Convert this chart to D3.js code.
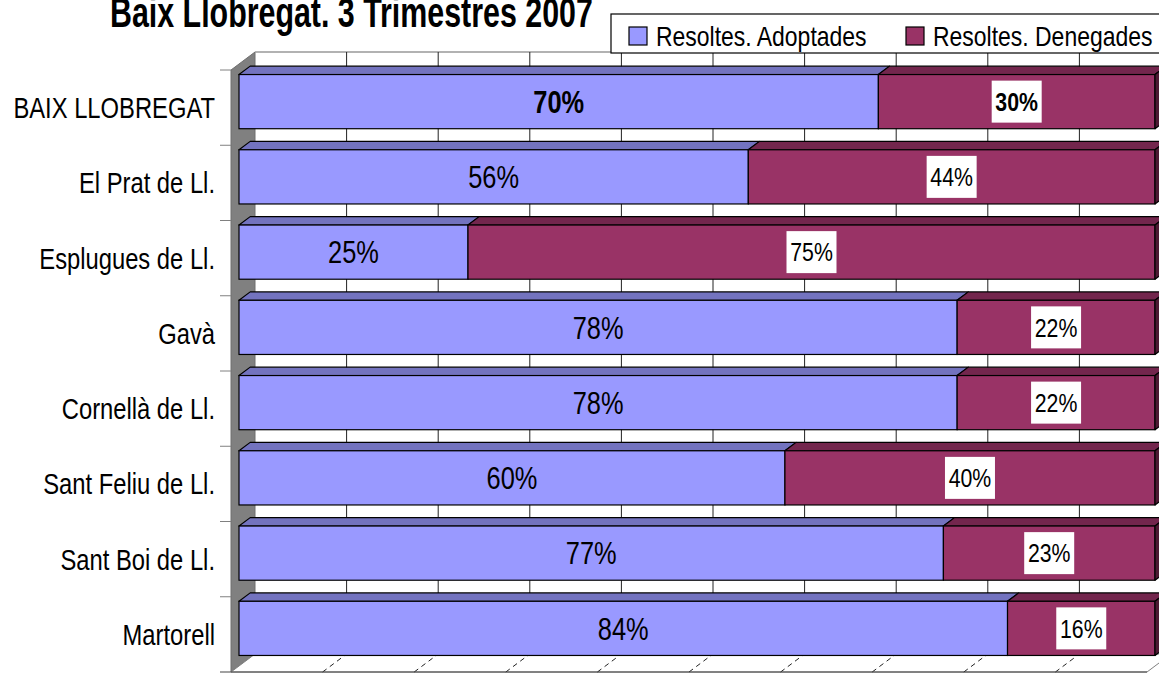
<!DOCTYPE html>
<html>
<head>
<meta charset="utf-8">
<script src="https://cdn.jsdelivr.net/npm/d3@7"></script>
<style>
  html, body { margin: 0; padding: 0; background: #fff; }
  svg { display: block; }
  text { font-family: "Liberation Sans", Arial, sans-serif; }
</style>
</head>
<body>
<div id="chart"></div>
<script>
// Data
const categories = ["BAIX LLOBREGAT", "El Prat de Ll.", "Esplugues de Ll.", "Gavà", "Cornellà de Ll.", "Sant Feliu de Ll.", "Sant Boi de Ll.", "Martorell"];
const adoptades = [69.8, 55.6, 25.0, 78.4, 78.4, 59.6, 76.9, 83.9];
const denegades = [30.2, 44.4, 75.0, 21.6, 21.6, 40.4, 23.1, 16.1];
const seriesNames = ["Resoltes. Adoptades", "Resoltes. Denegades"];
const title = "Baix Llobregat. 3 Trimestres 2007";

const W = 1159, H = 673;
const colors = {
  front: ["#9999ff", "#993366"],
  top: ["#7373bf", "#73264d"],
  side: ["#5c5c99", "#4d1a33"]
};

const svg = d3.select('#chart').append('svg').attr('width', W).attr('height', H);

// Arial Narrow is not installed: squeeze Liberation Sans horizontally
const NARROW = 0.82;
function narrowText(sel, x, y, str, size, anchor, weight) {
  return sel.append('text')
    .attr('transform', `translate(${x},${y}) scale(${NARROW},1)`)
    .attr('dy', '0.36em')
    .attr('text-anchor', anchor || 'start')
    .style('font-size', size + 'px')
    .style('font-weight', weight || 'normal')
    .text(str);
}

// front plane scales + oblique depth
const x = d3.scaleLinear().domain([0, 100]).range([231, 1147]);
const y = d3.scaleBand().domain(categories).range([70, 672]).paddingInner(0.28).paddingOuter(0.14);
const depth = { dx: 24, dy: -18 };
const f1 = 1 / 3, f2 = 0.8; // bar depth range
const P = (v, yy, f) => [x(v) + f * depth.dx, yy + f * depth.dy];
const poly = pts => pts.map(p => p.join(',')).join(' ');

const yTop = 70, yBot = 672;

// side wall (value 0)
svg.append('polygon')
  .attr('points', poly([P(0, yTop, 0), P(0, yTop, 1), P(0, yBot, 1), P(0, yBot, 0)]))
  .attr('fill', '#808080').attr('stroke', '#6e6e6e').attr('stroke-width', 1);

// floor
svg.append('polygon')
  .attr('points', poly([P(0, yBot, 0), P(100, yBot, 0), P(100, yBot, 1), P(0, yBot, 1)]))
  .attr('fill', '#fff').attr('stroke', '#808080').attr('stroke-width', 1);

// back wall top edge
svg.append('line')
  .attr('x1', P(0, yTop, 1)[0]).attr('y1', P(0, yTop, 1)[1])
  .attr('x2', P(100, yTop, 1)[0]).attr('y2', P(100, yTop, 1)[1])
  .attr('stroke', '#999').attr('stroke-width', 1.5);

// gridlines
const ticks = x.ticks(10);
ticks.filter(t => t > 0).forEach(t => {
  const a = P(t, yTop, 1), b = P(t, yBot, 1);
  svg.append('line').attr('x1', a[0]).attr('y1', a[1]).attr('x2', b[0]).attr('y2', b[1])
    .attr('stroke', '#222').attr('stroke-width', 1);
  if (t < 100) {
    const c = P(t, yBot, 0);
    svg.append('line').attr('x1', c[0]).attr('y1', c[1]).attr('x2', b[0]).attr('y2', b[1])
      .attr('stroke', '#222').attr('stroke-width', 1).attr('stroke-dasharray', '5,4');
  }
});

// front bottom edge + category ticks
svg.append('line').attr('x1', 220).attr('x2', x(100)).attr('y1', yBot).attr('y2', yBot)
  .attr('stroke', '#444').attr('stroke-width', 1.2);
categories.forEach(c => {
  const yy = y(c) - y.step() * y.paddingOuter();
  svg.append('line').attr('x1', 220).attr('x2', x(0)).attr('y1', yy).attr('y2', yy)
    .attr('stroke', '#808080').attr('stroke-width', 1);
});

// stacked bars
const rows = categories.map((c, i) => ({ cat: c, a: adoptades[i], d: denegades[i] }));
const stack = d3.stack().keys(['a', 'd'])(rows);
const bw = y.bandwidth();

rows.forEach((r, i) => {
  const yb = y(r.cat);
  stack.forEach((layer, k) => {
    const [s0, s1] = layer[i];
    const g = svg.append('g');
    g.append('polygon')
      .attr('points', poly([P(s0, yb, f1), P(s1, yb, f1), P(s1, yb, f2), P(s0, yb, f2)]))
      .attr('fill', colors.top[k]).attr('stroke', '#000').attr('stroke-width', 1.2).attr('stroke-linejoin', 'round');
    const fl = P(s0, yb, f1), fr = P(s1, yb, f1);
    g.append('rect')
      .attr('x', fl[0]).attr('y', fl[1]).attr('width', fr[0] - fl[0]).attr('height', bw)
      .attr('fill', colors.front[k]).attr('stroke', '#000').attr('stroke-width', 1.2);
    if (k === stack.length - 1) {
      g.append('polygon')
        .attr('points', poly([P(s1, yb, f1), P(s1, yb, f2), P(s1, yb + bw, f2), P(s1, yb + bw, f1)]))
        .attr('fill', colors.side[k]).attr('stroke', '#000').attr('stroke-width', 1.2).attr('stroke-linejoin', 'round');
    }
  });
});

// value labels
rows.forEach((r, i) => {
  const yb = y(r.cat);
  const bold = i === 0 ? 'bold' : 'normal';
  stack.forEach((layer, k) => {
    const [s0, s1] = layer[i];
    const cx = (P(s0, yb, f1)[0] + P(s1, yb, f1)[0]) / 2;
    const cy = P(s0, yb, f1)[1] + bw / 2;
    const label = Math.round(s1 - s0) + '%';
    if (k === 0) {
      narrowText(svg, cx, cy, label, 31, 'middle', bold);
    } else {
      svg.append('rect').attr('x', cx - 25).attr('y', cy - 21).attr('width', 50).attr('height', 42)
        .attr('fill', '#fff');
      narrowText(svg, cx, cy, label, 26, 'middle', bold);
    }
  });
});

// category labels
categories.forEach(c => {
  narrowText(svg, 215, y(c) + bw / 2, c, 29, 'end');
});

// title (top is clipped by the frame, as in the original)
const tt = svg.append('text')
  .style('font-size', '42px').style('font-weight', 'bold').text(title);
const tLen = tt.node().getComputedTextLength();
tt.attr('transform', `translate(110,27) scale(${483 / tLen},1)`);

// legend
const lg = svg.append('g');
lg.append('rect').attr('x', 611).attr('y', 14).attr('width', 600).attr('height', 39)
  .attr('fill', '#fff').attr('stroke', '#000').attr('stroke-width', 1.2);
const legendX = [629, 906];
seriesNames.forEach((s, k) => {
  lg.append('rect').attr('x', legendX[k]).attr('y', 27).attr('width', 18).attr('height', 18)
    .attr('fill', colors.front[k]).attr('stroke', '#000').attr('stroke-width', 1.2);
  narrowText(lg, legendX[k] + 27, 36, s, 28, 'start');
});
</script>
</body>
</html>
